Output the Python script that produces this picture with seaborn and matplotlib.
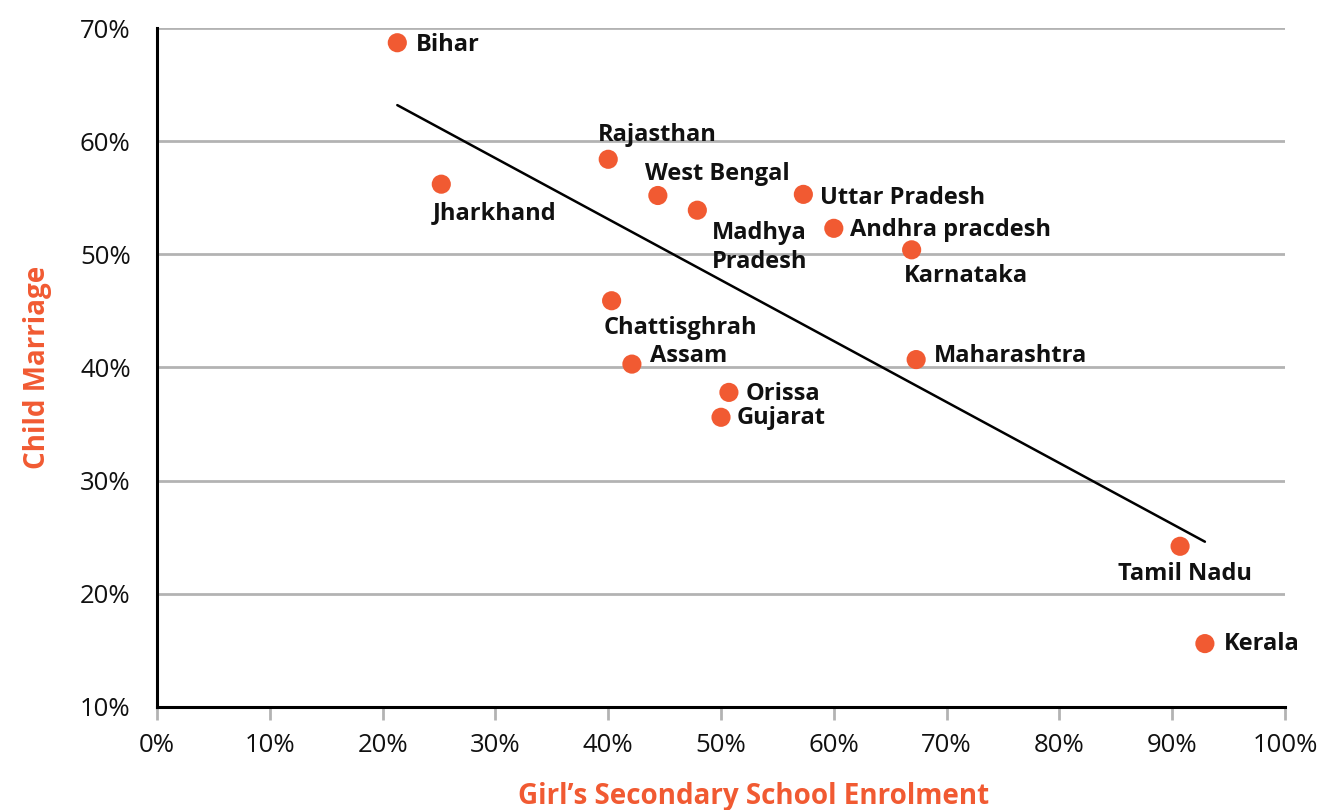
import pandas as pd
import matplotlib.pyplot as plt
import seaborn as sns
from matplotlib.ticker import PercentFormatter

# Data (percent)
states = ["Bihar", "Jharkhand", "Rajasthan", "West Bengal", "Madhya\nPradesh",
          "Uttar Pradesh", "Andhra pracdesh", "Karnataka", "Chattisghrah", "Assam",
          "Maharashtra", "Orissa", "Gujarat", "Tamil Nadu", "Kerala"]
enrolment = [21.3, 25.2, 40.0, 44.4, 47.9, 57.3, 60.0, 66.9, 40.3, 42.1,
             67.3, 50.7, 50.0, 90.7, 92.9]
child_marriage = [68.7, 56.2, 58.4, 55.2, 53.9, 55.3, 52.3, 50.4, 45.9, 40.3,
                  40.7, 37.8, 35.6, 24.2, 15.6]

x_ticks = [0, 10, 20, 30, 40, 50, 60, 70, 80, 90, 100]
y_ticks = [10, 20, 30, 40, 50, 60, 70]

# label offsets (points) relative to each dot
label_offsets = {
    "Bihar": (13.5, -1.4), "Jharkhand": (-6.5, -21), "Rajasthan": (-7.2, 17.5),
    "West Bengal": (-9.4, 15.5), "Madhya\nPradesh": (10.8, -27),
    "Uttar Pradesh": (12.2, -2.6), "Andhra pracdesh": (11.5, -1.2),
    "Karnataka": (-5.8, -18.5), "Chattisghrah": (-5.8, -19.8), "Assam": (13, 6),
    "Maharashtra": (13, 2.4), "Orissa": (12.2, -1.2), "Gujarat": (11.5, -0.5),
    "Tamil Nadu": (-44.6, -20), "Kerala": (13.7, -0.5),
}

df = pd.DataFrame({"state": states, "enrol": enrolment, "marriage": child_marriage})

ORANGE = "#F15A32"

sns.set_theme(style="white")
plt.rcParams["font.family"] = ["Open Sans", "DejaVu Sans"]

fig = plt.figure(figsize=(13.22, 8.10), dpi=100)
ax = fig.add_axes([0.1188, 0.1272, 0.8532, 0.8382])

# grid lines first so dots sit on top
ax.set_axisbelow(True)
ax.yaxis.grid(True, color="#b3b3b3", linewidth=2)

sns.scatterplot(data=df, x="enrol", y="marriage", ax=ax, color=ORANGE,
                s=190, edgecolor="none", zorder=3)
sns.regplot(data=df, x="enrol", y="marriage", ax=ax, scatter=False, ci=None,
            truncate=True, line_kws={"color": "black", "linewidth": 1.8})

for _, row in df.iterrows():
    dx, dy = label_offsets[row["state"]]
    ax.annotate(row["state"], (row["enrol"], row["marriage"]), xytext=(dx, dy),
                textcoords="offset points", ha="left", va="center",
                fontsize=17, fontweight="bold", color="#111111",
                linespacing=1.3, zorder=4)

ax.set_xlim(0, 100)
ax.set_ylim(10, 70)
ax.set_xticks(x_ticks)
ax.set_yticks(y_ticks)
ax.xaxis.set_major_formatter(PercentFormatter(decimals=0))
ax.yaxis.set_major_formatter(PercentFormatter(decimals=0))

ax.tick_params(axis="x", length=9, width=2, color="#b3b3b3", pad=10,
               labelsize=18.5, labelcolor="#111111", bottom=True)
ax.tick_params(axis="y", length=0, pad=19, labelsize=18.5, labelcolor="#111111")

sns.despine(ax=ax)
for side in ["left", "bottom"]:
    ax.spines[side].set_color("black")
    ax.spines[side].set_linewidth(2.2)

ax.set_xlabel("Girl\u2019s Secondary School Enrolment", color=ORANGE,
              fontsize=20, fontweight="bold", labelpad=17)
ax.xaxis.label.set_x(0.529)  # title sits a little right of centre in the original
ax.set_ylabel("Child Marriage", color=ORANGE, fontsize=20, fontweight="bold",
              labelpad=20)

fig.savefig("out.png", dpi=100)
